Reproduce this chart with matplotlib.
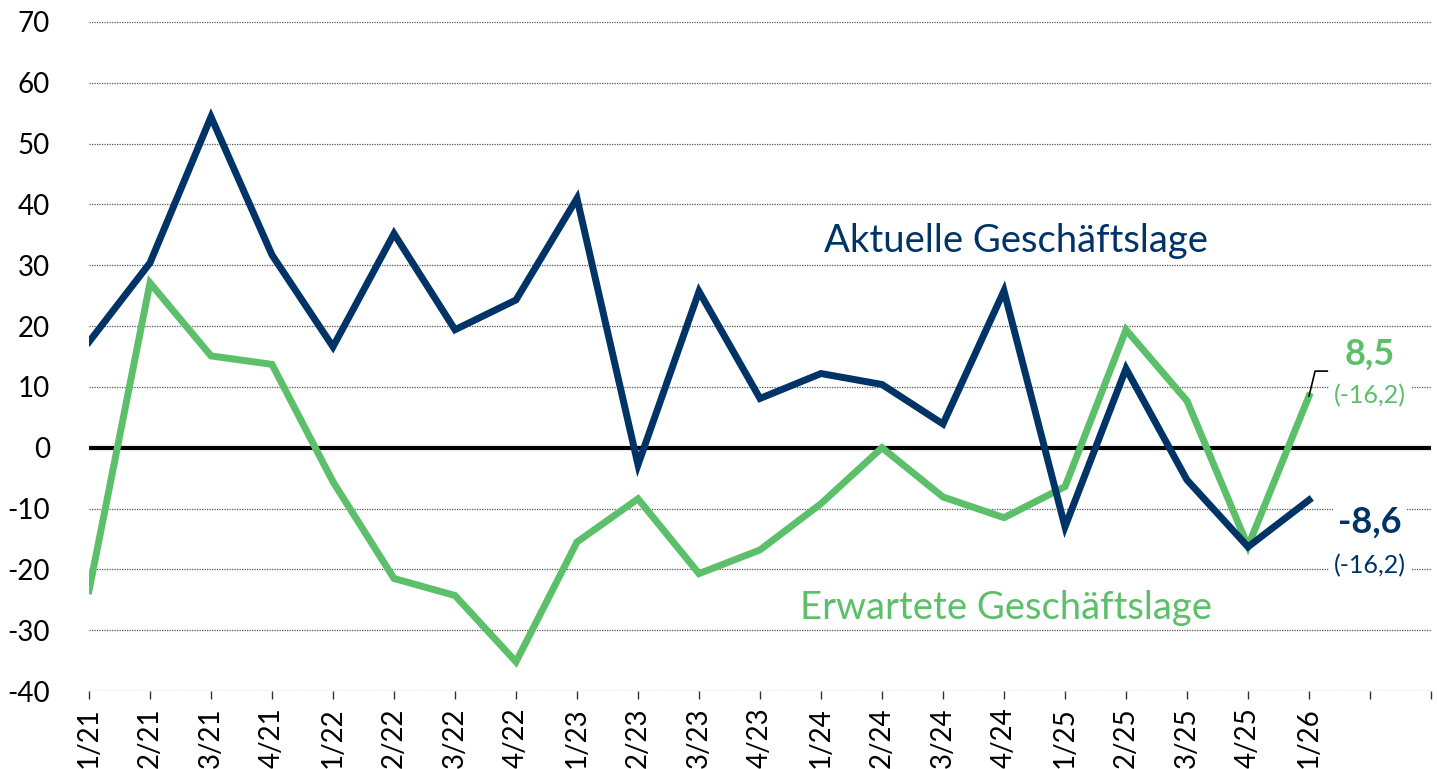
import matplotlib
matplotlib.use('Agg')

import matplotlib.pyplot as plt

quarters = ['1/21', '2/21', '3/21', '4/21', '1/22', '2/22', '3/22', '4/22',
            '1/23', '2/23', '3/23', '4/23', '1/24', '2/24', '3/24', '4/24',
            '1/25', '2/25', '3/25', '4/25', '1/26']
aktuell = [17.4, 30.4, 54.4, 31.7, 16.6, 35.2, 19.4, 24.3, 41.0, -2.8, 25.7,
           8.1, 12.2, 10.4, 3.9, 25.8, -13.0, 13.0, -5.3, -16.3, -8.6]
erwartet = [-23.5, 27.1, 15.1, 13.7, -5.6, -21.5, -24.3, -35.2, -15.5, -8.4,
            -20.7, -16.8, -9.2, 0.0, -8.1, -11.5, -6.4, 19.4, 7.7, -16.2, 8.5]
yticks = [-40, -30, -20, -10, 0, 10, 20, 30, 40, 50, 60, 70]

navy = '#003366'
green = '#5cbf6a'

plt.rcParams['font.family'] = ['Lato', 'DejaVu Sans']

fig = plt.figure(figsize=(14.37, 7.69), dpi=100)
ax = fig.add_axes([89 / 1437, 1 - 691 / 769, (1431 - 89) / 1437, (691 - 22) / 769])

x = list(range(len(quarters)))
n_slots = len(quarters) + 1

for y in yticks:
    if y == 0:
        continue
    ax.axhline(y, color='#555555', lw=0.9, ls=(0, (1, 1)), zorder=1)
ax.axhline(0, color='black', lw=3, zorder=2)

ax.plot(x, aktuell, color=navy, lw=5, solid_joinstyle='miter', zorder=4)
ax.plot(x, erwartet, color=green, lw=5, solid_joinstyle='miter', zorder=3)

ax.set_xlim(0, n_slots)
ax.set_ylim(-40, 70)
ax.set_xticks(list(range(n_slots + 1)))
ax.set_xticklabels(quarters + ['', ''], rotation=90, fontsize=20)
ax.set_yticks(yticks)
ax.set_yticklabels([str(v) for v in yticks], fontsize=20)
ax.tick_params(axis='y', length=0, pad=28)
ax.tick_params(axis='x', length=6, width=1, color='#333333', pad=6)
for s in ['top', 'right', 'left', 'bottom']:
    ax.spines[s].set_visible(False)

ax.text(18.35, 34.0, 'Aktuelle Geschäftslage', color=navy, fontsize=27.5,
        ha='right', va='center', zorder=5)
ax.text(11.66, -26.3, 'Erwartete Geschäftslage', color=green, fontsize=27.5,
        ha='left', va='center', zorder=5)

box = dict(facecolor='white', edgecolor='none', pad=4)
ax.text(21.0, 15.3, '8,5', color=green, fontsize=26, fontweight='bold',
        ha='center', va='center', bbox=box, zorder=6)
ax.text(21.0, 8.6, '(-16,2)', color=green, fontsize=18, ha='center', va='center',
        bbox=box, zorder=6)
ax.text(21.0, -12.3, '-8,6', color=navy, fontsize=26, fontweight='bold',
        ha='center', va='center', bbox=box, zorder=6)
ax.text(21.0, -19.4, '(-16,2)', color=navy, fontsize=18, ha='center', va='center',
        bbox=box, zorder=6)
ax.plot([20.0, 20.1, 20.3], [erwartet[-1], 12.6, 12.6], color='black', lw=1.2, zorder=6)

fig.savefig('out.png', dpi=100, facecolor='white')
